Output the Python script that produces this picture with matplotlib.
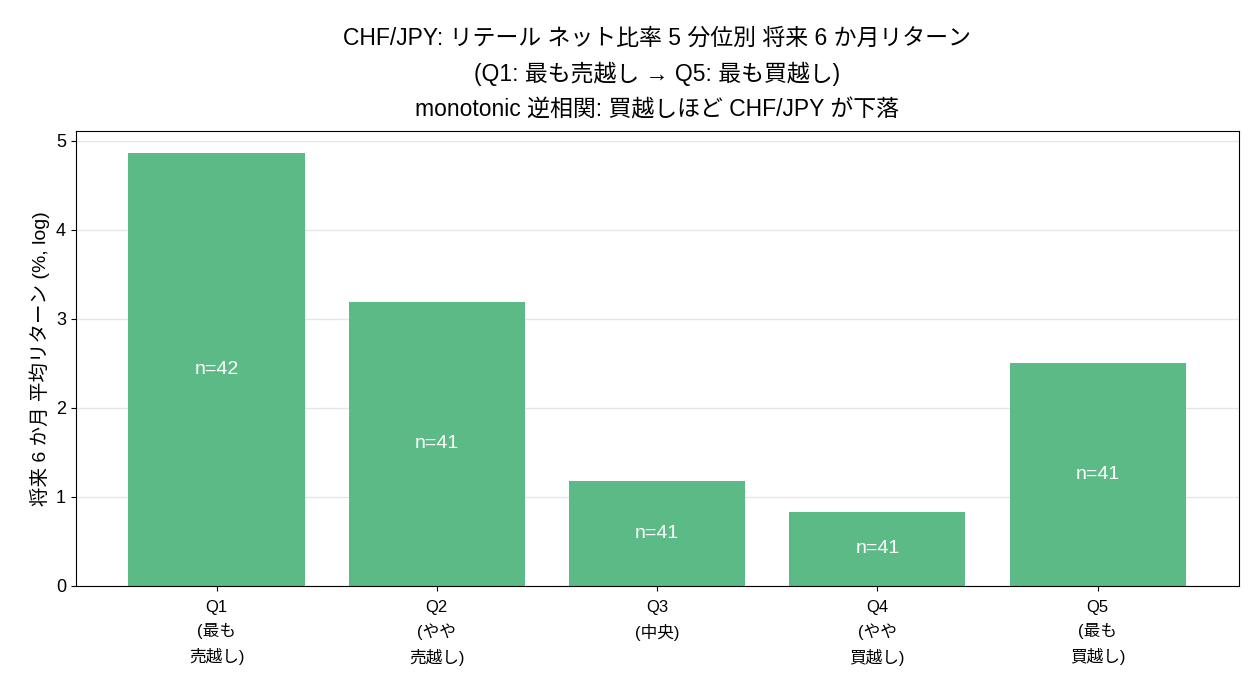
import matplotlib
matplotlib.use("Agg")
import matplotlib.pyplot as plt

plt.rcParams["font.family"] = ["Liberation Sans", "Noto Sans CJK JP", "DejaVu Sans"]

quintiles = ["Q1\n(最も\n売越し)", "Q2\n(やや\n売越し)", "Q3\n(中央)", "Q4\n(やや\n買越し)", "Q5\n(最も\n買越し)"]
mean_returns = [4.87, 3.19, 1.18, 0.83, 2.50]
counts = [42, 41, 41, 41, 41]
title_lines = [
    "CHF/JPY: リテール ネット比率 5 分位別 将来 6 か月リターン",
    "(Q1: 最も売越し → Q5: 最も買越し)",
    "monotonic 逆相関: 買越しほど CHF/JPY が下落",
]

fig, ax = plt.subplots(figsize=(12.6, 7), dpi=100)
x = range(len(quintiles))
bars = ax.bar(x, mean_returns, width=0.8, color="#5cba86", zorder=2)

for bar, n in zip(bars, counts):
    ax.text(bar.get_x() + bar.get_width() / 2, bar.get_height() / 2, f"n={n}",
            ha="center", va="center", color="white", fontsize=14, zorder=3)

ax.set_xticks(list(x))
ax.set_xticklabels(quintiles, fontsize=12, linespacing=1.6)
ax.tick_params(axis="x", pad=7)
ax.tick_params(axis="y", labelsize=13)
ax.set_ylabel("将来 6 か月 平均リターン (%, log)", fontsize=14)
ax.grid(axis="y", color="#e6e6e6", linewidth=1, zorder=0)
ax.set_axisbelow(True)

fig.subplots_adjust(left=0.06, right=0.983, top=0.813, bottom=0.163)

# title: three lines, evenly spaced, centred over the axes
cx = (ax.get_position().x0 + ax.get_position().x1) / 2
for i, line in enumerate(title_lines):
    fig.text(cx, 1 - (38 + 36 * i) / 700, line, ha="center", va="center", fontsize=16.5)

fig.savefig("out.png", dpi=100)
